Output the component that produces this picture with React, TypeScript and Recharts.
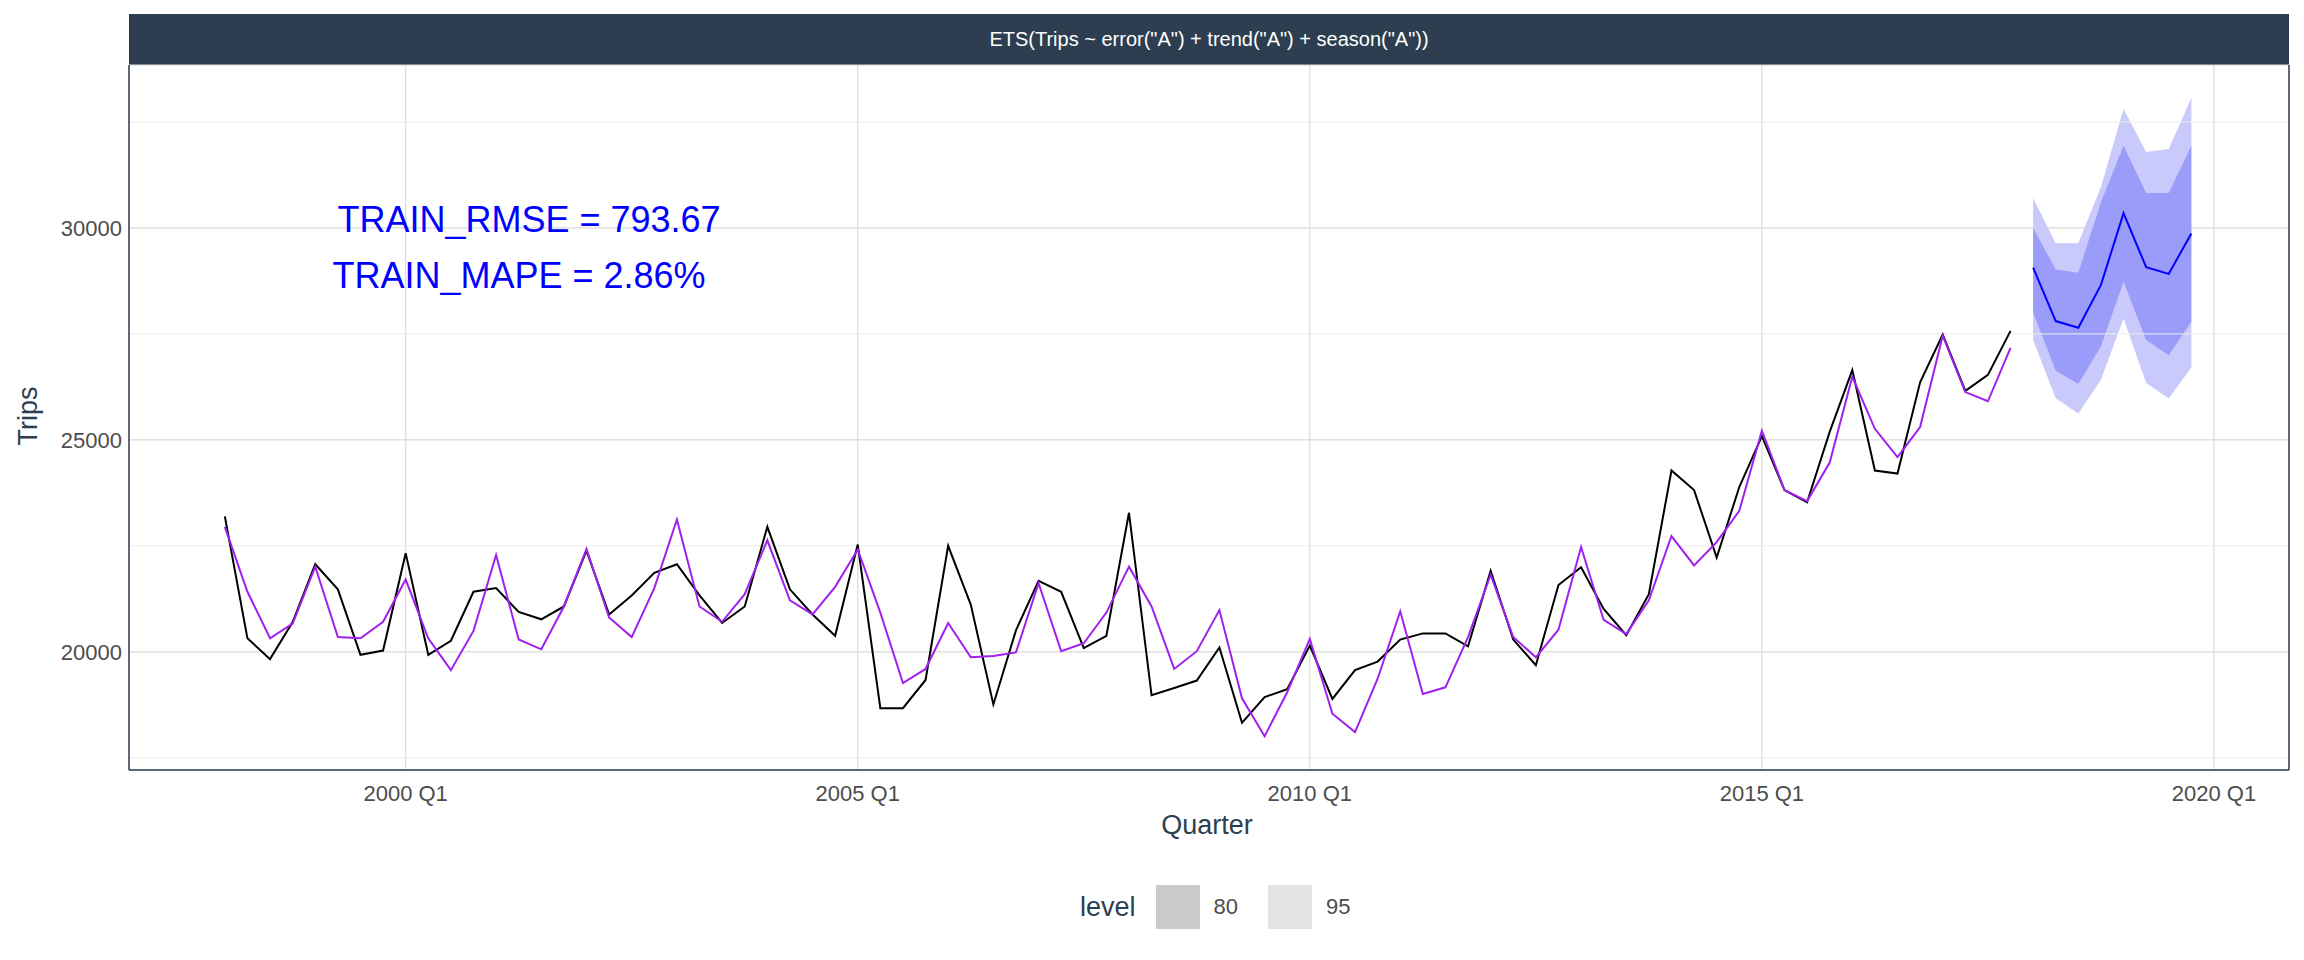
import {
  ComposedChart,
  Line,
  Area,
  XAxis,
  YAxis,
  CartesianGrid,
  ReferenceLine,
} from "recharts";

// 1998 Q1 .. 2017 Q4
const actual = [
  23194, 20318, 19827, 20700, 22066, 21474, 19928, 20029,
  22327, 19928, 20260, 21416, 21503, 20939, 20766, 21069,
  22384, 20881, 21329, 21864, 22066, 21329, 20679, 21069,
  22948, 21474, 20881, 20376, 22529, 18670, 18670, 19335,
  22500, 21113, 18757, 20506, 21676, 21416, 20087, 20376,
  23280, 18974, 19147, 19321, 20101, 18324, 18931, 19118,
  20145, 18887, 19566, 19769, 20289, 20434, 20434, 20130,
  21908, 20289, 19682, 21575, 21994, 21012, 20390, 21358,
  24277, 23815, 22225, 23887, 25087, 23815, 23526, 25188,
  26647, 24277, 24205, 26358, 27486, 26156, 26532, 27572,
];

const fitted = [
  22948, 21416, 20318, 20665, 22009, 20347, 20318, 20708,
  21705, 20318, 19566, 20491, 22283, 20289, 20058, 21069,
  22428, 20809, 20347, 21503, 23121, 21069, 20708, 21358,
  22630, 21214, 20881, 21532, 22413, 20925, 19263, 19595,
  20679, 19870, 19899, 19986, 21618, 20014, 20202, 20925,
  22009, 21069, 19595, 20014, 20983, 18902, 18006, 19046,
  20303, 18540, 18107, 19364, 20954, 19003, 19162, 20347,
  21821, 20347, 19870, 20520, 22471, 20751, 20419, 21214,
  22731, 22038, 22587, 23324, 25217, 23815, 23555, 24465,
  26488, 25260, 24595, 25303, 27457, 26127, 25910, 27168,
];

// 2018 Q1 .. 2019 Q4
const fcMean = [29061, 27803, 27645, 28656, 30347, 29075, 28916, 29870];
const fcLo80 = [28006, 26633, 26315, 27211, 28728, 27355, 26994, 27789];
const fcHi80 = [30000, 29017, 28945, 30607, 31936, 30824, 30824, 31936];
const fcLo95 = [27355, 25983, 25622, 26416, 27861, 26344, 25983, 26705];
const fcHi95 = [30708, 29639, 29639, 30968, 32803, 31792, 31864, 33064];

const xTicks = [2000, 2005, 2010, 2015, 2020];
const yTicks = [20000, 25000, 30000];
const yMinor = [17500, 22500, 27500, 32500];

const data = [
  ...actual.map((v, i) => ({ t: 1998 + i / 4, actual: v, fitted: fitted[i] })),
  ...fcMean.map((v, i) => ({
    t: 2018 + i / 4,
    mean: v,
    b80: [fcLo80[i], fcHi80[i]],
    b95: [fcLo95[i], fcHi95[i]],
  })),
];

const font = "'Liberation Sans', Arial, sans-serif";

export default function App() {
  return (
    <div style={{ position: "relative", width: 2288, height: 944, fontFamily: font }}>
      <div
        style={{
          position: "absolute",
          left: 121,
          top: 6,
          width: 2160,
          height: 51,
          background: "#2c3e50",
          color: "#fff",
          fontSize: 20,
          display: "flex",
          alignItems: "center",
          justifyContent: "center",
        }}
      >
        ETS(Trips ~ error("A") + trend("A") + season("A"))
      </div>
      <ComposedChart
        width={2288}
        height={944}
        data={data}
        margin={{ top: 57, right: 7, bottom: 152, left: 0 }}
      >
        <CartesianGrid stroke="#dadada" strokeWidth={1.2} />
        {yMinor.map((y) => (
          <ReferenceLine key={y} y={y} stroke="#ededed" strokeWidth={1} />
        ))}
        <XAxis
          dataKey="t"
          type="number"
          domain={[1996.94, 2020.83]}
          ticks={xTicks}
          tickFormatter={(v) => `${v} Q1`}
          height={30}
          tickSize={6}
          tickMargin={9}
          tickLine={false}
          axisLine={{ stroke: "#2c3e50", strokeWidth: 1.5 }}
          tick={{ fontSize: 22, fill: "#4d4d4d", fontFamily: font }}
        />
        <YAxis
          type="number"
          domain={[17211, 33844]}
          ticks={yTicks}
          width={121}
          tickLine={false}
          tickSize={4}
          tickMargin={3}
          axisLine={{ stroke: "#2c3e50", strokeWidth: 1.5 }}
          tick={{ fontSize: 22, fill: "#4d4d4d", fontFamily: font }}
          allowDataOverflow
        />
        <ReferenceLine x={2020.83} stroke="#2c3e50" strokeWidth={1.5} />
        <Area dataKey="b95" stroke="none" fill="#c9c9fb" fillOpacity={1} isAnimationActive={false} />
        <Area dataKey="b80" stroke="none" fill="#9b9bfa" fillOpacity={1} isAnimationActive={false} />
        <Line dataKey="actual" stroke="#000" strokeWidth={2} dot={false} isAnimationActive={false} />
        <Line dataKey="fitted" stroke="#a020f0" strokeWidth={2} dot={false} isAnimationActive={false} />
        <Line dataKey="mean" stroke="#0000ff" strokeWidth={2} dot={false} isAnimationActive={false} />
      </ComposedChart>
      <div style={{ position: "absolute", left: 521, top: 212, transform: "translate(-50%,-50%)", color: "#0000ff", fontSize: 36, whiteSpace: "nowrap" }}>
        TRAIN_RMSE = 793.67
      </div>
      <div style={{ position: "absolute", left: 511, top: 268, transform: "translate(-50%,-50%)", color: "#0000ff", fontSize: 36, whiteSpace: "nowrap" }}>
        TRAIN_MAPE = 2.86%
      </div>
      <div style={{ position: "absolute", left: 1199, top: 817, transform: "translate(-50%,-50%)", color: "#2c3e50", fontSize: 27 }}>
        Quarter
      </div>
      <div style={{ position: "absolute", left: 20, top: 408, transform: "translate(-50%,-50%) rotate(-90deg)", color: "#2c3e50", fontSize: 27 }}>
        Trips
      </div>
      <div style={{ position: "absolute", left: 1072, top: 877, height: 44, display: "flex", alignItems: "center", fontSize: 22, color: "#4d4d4d" }}>
        <span style={{ fontSize: 27, color: "#2c3e50", marginRight: 20 }}>level</span>
        <span style={{ width: 44, height: 44, background: "#cacaca", marginRight: 14 }} />
        <span style={{ marginRight: 30 }}>80</span>
        <span style={{ width: 44, height: 44, background: "#e3e3e3", marginRight: 14 }} />
        <span>95</span>
      </div>
    </div>
  );
}
